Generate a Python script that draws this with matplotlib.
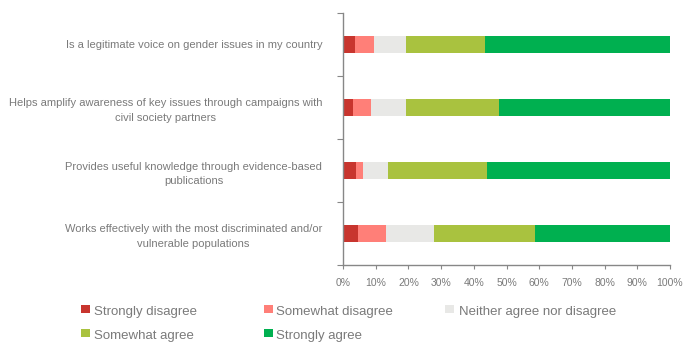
import matplotlib
matplotlib.use("Agg")
import matplotlib.pyplot as plt
from matplotlib.patches import Rectangle
import numpy as np

categories = [
    "Is a legitimate voice on gender issues in my country",
    "Helps amplify awareness of key issues through campaigns with\ncivil society partners",
    "Provides useful knowledge through evidence-based\npublications",
    "Works effectively with the most discriminated and/or\nvulnerable populations",
]
series = ["Strongly disagree", "Somewhat disagree", "Neither agree nor disagree",
          "Somewhat agree", "Strongly agree"]
strongly_disagree = [3.6, 3.0, 3.9, 4.5]
somewhat_disagree = [5.9, 5.6, 2.3, 8.8]
neither = [9.9, 10.8, 7.5, 14.4]
somewhat_agree = [24.1, 28.2, 30.2, 31.1]
strongly_agree = [56.5, 52.4, 56.1, 41.2]
values = [strongly_disagree, somewhat_disagree, neither, somewhat_agree, strongly_agree]
colors = ["#C8352E", "#FF7F78", "#E8E8E6", "#A9C23F", "#00B050"]
xticks = list(range(0, 101, 10))
xticklabels = [f"{t}%" for t in xticks]

plt.rcParams['font.family'] = ['Liberation Sans', 'DejaVu Sans']
fig = plt.figure(figsize=(6.84, 3.43), dpi=100)
W, H = 684, 343
ax = fig.add_axes([343 / W, (H - 265) / H, (670 - 343) / W, (265 - 13) / H])

n = len(categories)
ypos = np.arange(n)[::-1]
left = np.zeros(n)
for vals, col, name in zip(values, colors, series):
    v = np.array(vals)
    ax.barh(ypos, v, left=left, height=0.28, color=col, label=name, linewidth=0)
    left += v

ax.set_xlim(0, 100)
ax.set_ylim(-0.5, n - 0.5)
gray = "#878787"
txt = "#7A7A7A"
for s in ["top", "right"]:
    ax.spines[s].set_visible(False)
for s in ["left", "bottom"]:
    ax.spines[s].set_color(gray)
    ax.spines[s].set_linewidth(1.0)

ax.set_xticks(xticks)
ax.set_xticklabels(xticklabels, fontsize=7.5, color=txt)
ax.tick_params(axis='x', length=3, color=gray, pad=6)

ax.set_yticks(np.arange(-0.5, n, 1.0))
ax.set_yticklabels([])
ax.tick_params(axis='y', which='major', length=4, color=gray)
ax.set_yticks(ypos, minor=True)
ax.set_yticklabels(categories, minor=True, fontsize=8, color=txt,
                   multialignment='center', linespacing=1.55)
ax.tick_params(axis='y', which='minor', length=0, pad=15)

# legend (manual, fixed column positions)
sq_x = [81, 264, 445]
tx_x = [94, 276, 459]
row_y = [312, 336]
for i, (name, col) in enumerate(zip(series, colors)):
    r, c = divmod(i, 3)
    y = row_y[r]
    fig.add_artist(Rectangle((sq_x[c] / W, (H - y - 1) / H), 9 / W, 8 / H,
                             transform=fig.transFigure, color=col, linewidth=0))
    fig.text(tx_x[c] / W, (H - y) / H, name, fontsize=9.5, color=txt,
             ha='left', va='center')

fig.savefig("out.png", dpi=100)
